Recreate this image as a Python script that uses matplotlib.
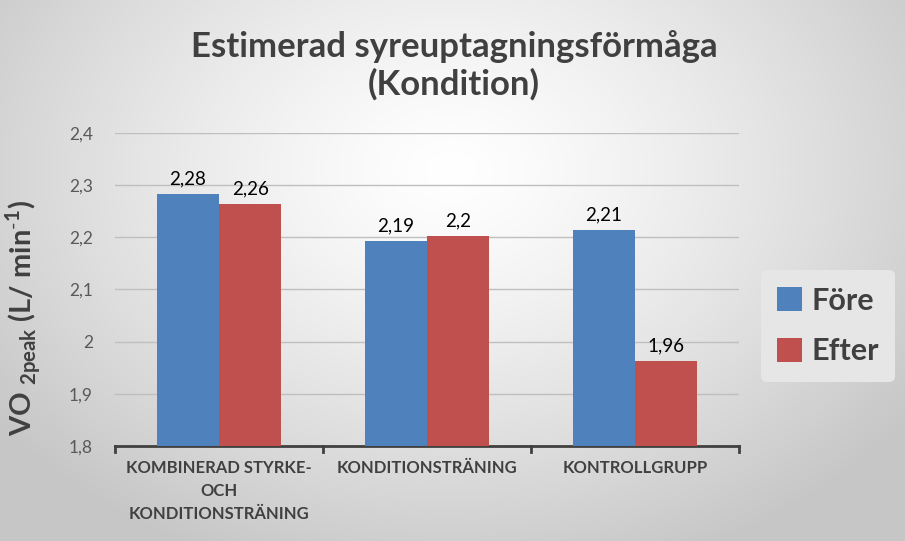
import numpy as np
import matplotlib
matplotlib.use("Agg")
import matplotlib.pyplot as plt
from matplotlib.patches import Patch

categories = ["KOMBINERAD STYRKE-\nOCH\nKONDITIONSTRÄNING", "KONDITIONSTRÄNING", "KONTROLLGRUPP"]
series_names = ["Före", "Efter"]
fore = [2.283, 2.193, 2.214]
efter = [2.264, 2.203, 1.963]
yticks = [1.8, 1.9, 2.0, 2.1, 2.2, 2.3, 2.4]
ytick_labels = ["1,8", "1,9", "2", "2,1", "2,2", "2,3", "2,4"]
title = "Estimerad syreuptagningsförmåga\n(Kondition)"

plt.rcParams['font.family'] = ['Lato', 'DejaVu Sans']
plt.rcParams['mathtext.fontset'] = 'custom'
plt.rcParams['mathtext.rm'] = 'Lato'
plt.rcParams['mathtext.bf'] = 'Lato:bold'

W, H = 905, 541
fig = plt.figure(figsize=(W / 100, H / 100), dpi=100)

# background radial gradient
bg = fig.add_axes([0, 0, 1, 1], zorder=-10)
yy, xx = np.mgrid[0:H, 0:W]
d = np.sqrt(((xx - 450) / 560.0) ** 2 + ((yy - 170) / 420.0) ** 2)
val = 1.0 - 0.22 * np.clip(d, 0, 1.0) ** 1.3
img = np.dstack([val, val, val])
bg.imshow(img, aspect='auto', extent=[0, 1, 0, 1], origin='upper')
bg.axis('off')

ax = fig.add_axes([115 / W, 1 - 446 / H, (739 - 115) / W, (446 - 133) / H])
ax.set_facecolor('none')

x = np.arange(len(categories))
bw = 0.3
blue = '#4F81BD'
red = '#C0504D'
b1 = ax.bar(x - bw / 2, fore, bw, color=blue, zorder=3)
b2 = ax.bar(x + bw / 2, efter, bw, color=red, zorder=3)

def fmt(v):
    s = f"{round(v, 2):.2f}".rstrip('0').rstrip('.')
    return s.replace('.', ',')

for bars, vals in ((b1, fore), (b2, efter)):
    for b, v in zip(bars, vals):
        ax.text(b.get_x() + b.get_width() / 2, v + 0.012, fmt(v), ha='center', va='bottom',
                fontsize=13.5, color='#000000')

ax.set_xlim(-0.5, 2.5)
ax.set_ylim(1.8, 2.4)
ax.set_yticks(yticks)
ax.set_yticklabels(ytick_labels, fontsize=12.5, color='#595959')
ax.tick_params(axis='y', length=0, pad=16)
ax.yaxis.grid(True, color='#bfbfbf', linewidth=1.0, zorder=0)
ax.set_axisbelow(True)

ax.set_xticks(x)
ax.set_xticklabels(categories, fontsize=12, fontweight='bold', color='#404040', linespacing=1.55)
ax.tick_params(axis='x', length=0, pad=10)
# category boundary tick marks
for b in [-0.5, 0.5, 1.5, 2.5]:
    ax.plot([b, b], [1.8, 1.8 - 0.012], color='#404040', lw=2, clip_on=False, zorder=4)

for s in ['top', 'right', 'left']:
    ax.spines[s].set_visible(False)
ax.spines['bottom'].set_color('#404040')
ax.spines['bottom'].set_linewidth(2)

ax.set_ylabel("VO $_{\\mathbf{2peak}}$ (L/ min$^{\\mathbf{\\text{-}1}}$)", fontsize=21, fontweight='bold',
              color='#404040', labelpad=12)
ax.yaxis.set_label_coords(-72 / (739 - 115), 0.41)

fig.text(0.5 * (190 + 718) / W, 1 - 65 / H, title, ha='center', va='center', fontsize=25,
         fontweight='bold', color='#404040', linespacing=1.2)

handles = [Patch(facecolor=blue, edgecolor='none'), Patch(facecolor=red, edgecolor='none')]
leg = fig.legend(handles, series_names, loc='center', bbox_to_anchor=(828 / W, 1 - 326 / H),
                 fontsize=22, frameon=True, handlelength=0.8, handleheight=0.8,
                 handletextpad=0.3, labelspacing=0.75, borderpad=0.55)
leg.get_frame().set_facecolor('#e6e6e6')
leg.get_frame().set_edgecolor('none')
leg.get_frame().set_alpha(1)
for t in leg.get_texts():
    t.set_color('#404040')
    t.set_fontweight('bold')

fig.savefig('out.png', dpi=100)
